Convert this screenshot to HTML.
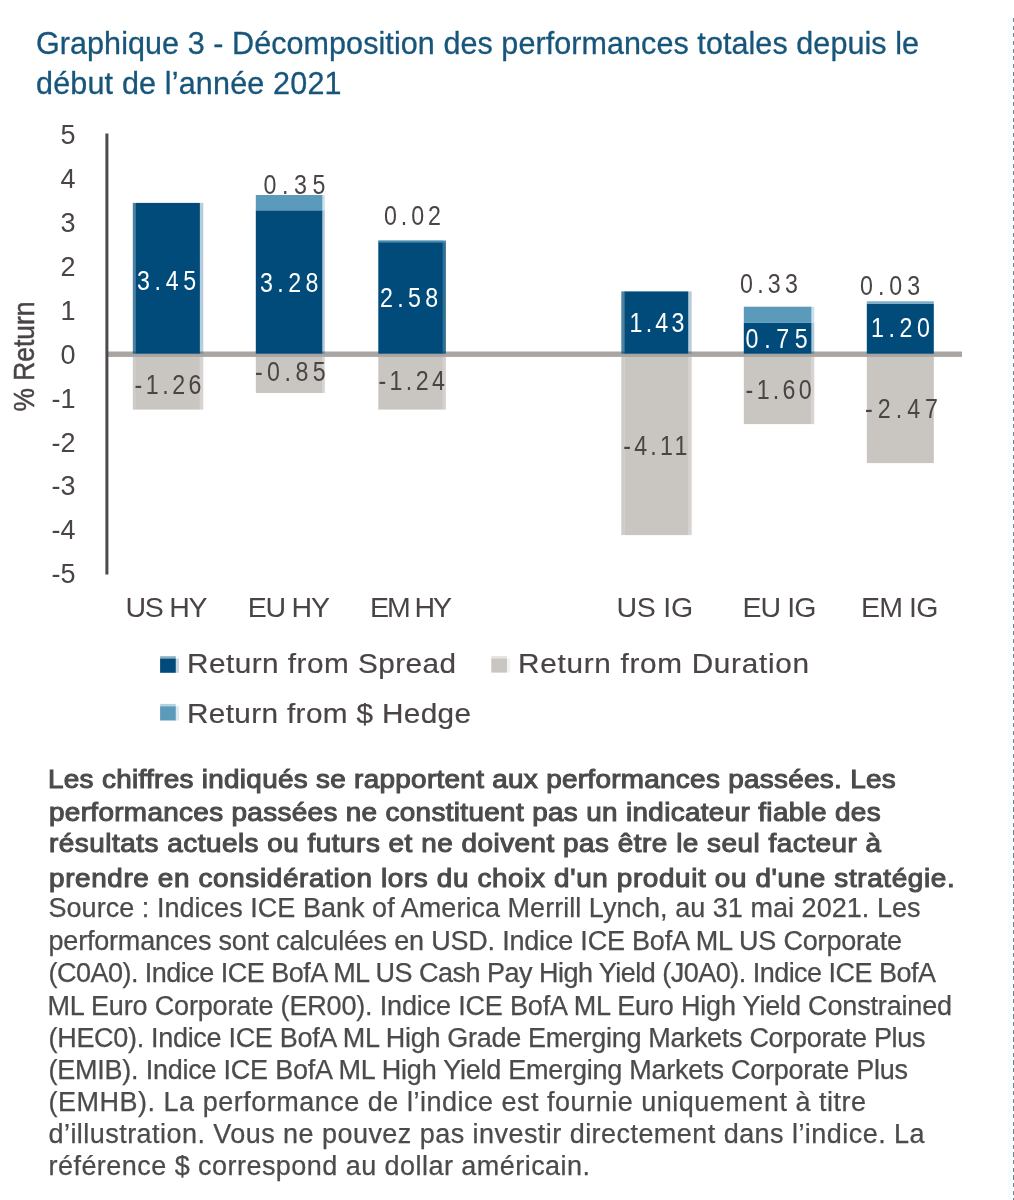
<!DOCTYPE html>
<html lang="fr">
<head>
<meta charset="utf-8">
<title>Graphique 3</title>
<style>
html,body{margin:0;padding:0;background:#fff}
body{width:1014px;height:1200px;position:relative;overflow:hidden;font-family:"Liberation Sans", sans-serif}
.ln{position:absolute;white-space:nowrap;line-height:1;margin:0;transform-origin:0 0}
.t{color:#17557b;font-size:30.5px;-webkit-text-stroke:0.3px #17557b}
.b{color:#4b4b4d;font-size:26px;font-weight:normal;-webkit-text-stroke:1.05px #4b4b4d;transform:scaleX(1.07)}
.n{color:#4b4b4d;font-size:27px;-webkit-text-stroke:0.25px #4b4b4d}
.chart{position:absolute;left:0;top:0}
.dots{position:absolute;left:1012.8px;top:17.6px;width:1.2px;height:1183px;
 background:repeating-linear-gradient(to bottom,#76838f 0,#76838f 4.1px,transparent 4.1px,transparent 7.665px)}
.halo{position:absolute;left:1008px;top:17px;width:5px;height:1183px;background:#f7fcfd}
</style>
</head>
<body>
<div class="ln t" style="left:36.00px;top:27.98px;letter-spacing:0.079px">Graphique 3 - Décomposition des performances totales depuis le</div>
<div class="ln t" style="left:36.00px;top:67.98px;letter-spacing:0.180px">début de l’année 2021</div>
<div class="ln b" style="left:48.00px;top:766.49px;letter-spacing:0.305px">Les chiffres indiqués se rapportent aux performances passées. Les</div>
<div class="ln b" style="left:49.00px;top:799.49px;letter-spacing:0.338px">performances passées ne constituent pas un indicateur fiable des</div>
<div class="ln b" style="left:49.00px;top:830.09px;letter-spacing:0.497px">résultats actuels ou futurs et ne doivent pas être le seul facteur à</div>
<div class="ln b" style="left:49.00px;top:864.59px;letter-spacing:0.614px">prendre en considération lors du choix d&#x27;un produit ou d&#x27;une stratégie.</div>
<div class="ln n" style="left:48.50px;top:895.04px;letter-spacing:0.037px">Source : Indices ICE Bank of America Merrill Lynch, au 31 mai 2021. Les</div>
<div class="ln n" style="left:48.50px;top:927.89px;letter-spacing:-0.196px">performances sont calculées en USD. Indice ICE BofA ML US Corporate</div>
<div class="ln n" style="left:48.50px;top:960.49px;letter-spacing:-0.520px">(C0A0). Indice ICE BofA ML US Cash Pay High Yield (J0A0). Indice ICE BofA</div>
<div class="ln n" style="left:47.50px;top:992.59px;letter-spacing:-0.168px">ML Euro Corporate (ER00). Indice ICE BofA ML Euro High Yield Constrained</div>
<div class="ln n" style="left:48.50px;top:1025.19px;letter-spacing:-0.307px">(HEC0). Indice ICE BofA ML High Grade Emerging Markets Corporate Plus</div>
<div class="ln n" style="left:48.50px;top:1057.29px;letter-spacing:-0.233px">(EMIB). Indice ICE BofA ML High Yield Emerging Markets Corporate Plus</div>
<div class="ln n" style="left:48.50px;top:1088.89px;letter-spacing:0.510px">(EMHB). La performance de l’indice est fournie uniquement à titre</div>
<div class="ln n" style="left:48.50px;top:1120.99px;letter-spacing:0.452px">d’illustration. Vous ne pouvez pas investir directement dans l’indice. La</div>
<div class="ln n" style="left:48.50px;top:1152.89px;letter-spacing:0.458px">référence $ correspond au dollar américain.</div>
<svg class="chart" width="1014" height="1200" viewBox="0 0 1014 1200">
<g font-family='"Liberation Sans", sans-serif'>
<text transform="translate(263.4 194.2) scale(0.86 1)" font-size="27" fill="#4a4445" textLength="72.2" lengthAdjust="spacing">0.35</text>
<text transform="translate(383.9 225.4) scale(0.86 1)" font-size="27" fill="#4a4445" textLength="66.3" lengthAdjust="spacing">0.02</text>
<text transform="translate(740.1 292.6) scale(0.86 1)" font-size="27" fill="#4a4445" textLength="67.2" lengthAdjust="spacing">0.33</text>
<text transform="translate(860.0 295.0) scale(0.86 1)" font-size="27" fill="#4a4445" textLength="70.0" lengthAdjust="spacing">0.03</text>
</g>
<rect x="132.8" y="354.0" width="3.2" height="55.6" fill="#c9c6c2" opacity="0.9"/><rect x="199.7" y="354.0" width="3.6" height="55.6" fill="#c9c6c2" opacity="0.75"/><rect x="135.8" y="354.0" width="64.1" height="55.6" fill="#c9c6c2"/>
<rect x="322.1" y="354.0" width="2.7" height="39.0" fill="#c9c6c2" opacity="0.75"/><rect x="255.8" y="354.0" width="66.5" height="39.0" fill="#c9c6c2"/>
<rect x="442.7" y="354.0" width="3.2" height="55.6" fill="#c9c6c2" opacity="0.8"/><rect x="378.3" y="354.0" width="64.6" height="55.6" fill="#c9c6c2"/>
<rect x="621.3" y="354.0" width="3.2" height="181.1" fill="#c9c6c2" opacity="0.9"/><rect x="688.0" y="354.0" width="3.7" height="181.1" fill="#c9c6c2" opacity="0.75"/><rect x="624.3" y="354.0" width="63.9" height="181.1" fill="#c9c6c2"/>
<rect x="811.2" y="354.0" width="3.1" height="70.1" fill="#c9c6c2" opacity="0.75"/><rect x="743.8" y="354.0" width="67.6" height="70.1" fill="#c9c6c2"/>
<rect x="866.8" y="354.0" width="67.0" height="109.1" fill="#c9c6c2"/>
<rect x="107" y="351.5" width="855" height="5.4" fill="#a8a5a3"/>
<rect x="132.8" y="202.9" width="3.2" height="150.8" fill="#004b7a" opacity="0.7"/><rect x="199.7" y="202.9" width="3.6" height="150.8" fill="#004b7a" opacity="0.28"/><rect x="135.8" y="202.9" width="64.1" height="150.8" fill="#004b7a"/>
<rect x="322.1" y="210.3" width="2.7" height="143.4" fill="#004b7a" opacity="0.3"/><rect x="255.8" y="210.3" width="66.5" height="143.4" fill="#004b7a"/>
<rect x="322.1" y="195.0" width="2.7" height="15.3" fill="#5b9aba" opacity="0.3"/><rect x="255.8" y="195.0" width="66.5" height="15.3" fill="#5b9aba"/>
<rect x="442.7" y="241.0" width="3.2" height="112.7" fill="#004b7a" opacity="0.8"/><rect x="378.3" y="241.0" width="64.6" height="112.7" fill="#004b7a"/>
<g opacity="0.8"><rect x="442.7" y="240.1" width="3.2" height="2.5" fill="#5b9aba" opacity="0.8"/><rect x="378.3" y="240.1" width="64.6" height="2.5" fill="#5b9aba"/></g>
<rect x="621.3" y="291.4" width="3.2" height="62.3" fill="#004b7a" opacity="0.7"/><rect x="688.0" y="291.4" width="3.7" height="62.3" fill="#004b7a" opacity="0.28"/><rect x="624.3" y="291.4" width="63.9" height="62.3" fill="#004b7a"/>
<rect x="811.2" y="322.9" width="3.1" height="30.8" fill="#004b7a" opacity="0.3"/><rect x="743.8" y="322.9" width="67.6" height="30.8" fill="#004b7a"/>
<rect x="811.2" y="306.7" width="3.1" height="16.2" fill="#5b9aba" opacity="0.3"/><rect x="743.8" y="306.7" width="67.6" height="16.2" fill="#5b9aba"/>
<rect x="866.8" y="303.8" width="67.0" height="49.9" fill="#004b7a"/>
<g opacity="0.8"><rect x="866.8" y="301.3" width="67.0" height="2.5" fill="#5b9aba"/></g>
<rect x="105.4" y="133.5" width="3" height="441" fill="#4f494b"/>
<g font-family='"Liberation Sans", sans-serif'>
<text x="75.6" y="144.2" font-size="27" fill="#4a4445" text-anchor="end">5</text>
<text x="75.6" y="188.1" font-size="27" fill="#4a4445" text-anchor="end">4</text>
<text x="75.6" y="232.0" font-size="27" fill="#4a4445" text-anchor="end">3</text>
<text x="75.6" y="275.9" font-size="27" fill="#4a4445" text-anchor="end">2</text>
<text x="75.6" y="319.8" font-size="27" fill="#4a4445" text-anchor="end">1</text>
<text x="75.6" y="363.7" font-size="27" fill="#4a4445" text-anchor="end">0</text>
<text x="75.6" y="407.6" font-size="27" fill="#4a4445" text-anchor="end">-1</text>
<text x="75.6" y="451.5" font-size="27" fill="#4a4445" text-anchor="end">-2</text>
<text x="75.6" y="495.4" font-size="27" fill="#4a4445" text-anchor="end">-3</text>
<text x="75.6" y="539.3" font-size="27" fill="#4a4445" text-anchor="end">-4</text>
<text x="75.6" y="583.2" font-size="27" fill="#4a4445" text-anchor="end">-5</text>
<text transform="translate(34.4 411.5) rotate(-90)" font-size="29" fill="#4a4445" stroke="#4a4445" stroke-width="0.5" textLength="110" lengthAdjust="spacingAndGlyphs">% Return</text>
<text x="125.5" y="617.2" font-size="28.5" fill="#4a4445" textLength="82.1" lengthAdjust="spacing">US HY</text>
<text x="247.8" y="617.2" font-size="28.5" fill="#4a4445" textLength="82.1" lengthAdjust="spacing">EU HY</text>
<text x="370.1" y="617.2" font-size="28.5" fill="#4a4445" textLength="82.0" lengthAdjust="spacing">EM HY</text>
<text x="616.5" y="617.2" font-size="28.5" fill="#4a4445" textLength="76.6" lengthAdjust="spacing">US IG</text>
<text x="742.4" y="617.2" font-size="28.5" fill="#4a4445" textLength="74.0" lengthAdjust="spacing">EU IG</text>
<text x="861.0" y="617.2" font-size="28.5" fill="#4a4445" textLength="77.3" lengthAdjust="spacing">EM IG</text>
<text transform="translate(136.9 290.1) scale(0.86 1)" font-size="27" fill="#ffffff" textLength="69.0" lengthAdjust="spacing">3.45</text>
<text transform="translate(260.1 292.3) scale(0.86 1)" font-size="27" fill="#ffffff" textLength="67.7" lengthAdjust="spacing">3.28</text>
<text transform="translate(380.0 307.0) scale(0.86 1)" font-size="27" fill="#ffffff" textLength="67.7" lengthAdjust="spacing">2.58</text>
<text transform="translate(629.6 332.0) scale(0.86 1)" font-size="27" fill="#ffffff" textLength="63.6" lengthAdjust="spacing">1.43</text>
<text transform="translate(745.6 347.8) scale(0.86 1)" font-size="27" fill="#ffffff" textLength="72.2" lengthAdjust="spacing">0.75</text>
<text transform="translate(871.0 336.8) scale(0.86 1)" font-size="27" fill="#ffffff" textLength="68.6" lengthAdjust="spacing">1.20</text>
<text transform="translate(134.6 393.5) scale(0.86 1)" font-size="27" fill="#4a4445" textLength="77.8" lengthAdjust="spacing">-1.26</text>
<text transform="translate(254.9 381.2) scale(0.86 1)" font-size="27" fill="#4a4445" textLength="82.4" lengthAdjust="spacing">-0.85</text>
<text transform="translate(378.4 390.2) scale(0.86 1)" font-size="27" fill="#4a4445" textLength="77.3" lengthAdjust="spacing">-1.24</text>
<text transform="translate(623.3 454.7) scale(0.86 1)" font-size="27" fill="#4a4445" textLength="74.5" lengthAdjust="spacing">-4.11</text>
<text transform="translate(745.6 398.6) scale(0.86 1)" font-size="27" fill="#4a4445" textLength="76.9" lengthAdjust="spacing">-1.60</text>
<text transform="translate(865.1 418.3) scale(0.86 1)" font-size="27" fill="#4a4445" textLength="84.7" lengthAdjust="spacing">-2.47</text>
<rect x="175.8" y="658.6" width="3.2" height="14.2" fill="#004b7a" opacity="0.22"/><rect x="160.1" y="656.2" width="15.7" height="2.6" fill="#004b7a" opacity="0.45"/><rect x="160.1" y="658.6" width="15.7" height="14.2" fill="#004b7a"/>
<rect x="507.0" y="658.4" width="3.2" height="14.2" fill="#c9c6c2" opacity="0.22"/><rect x="491.3" y="656.0" width="15.7" height="2.6" fill="#c9c6c2" opacity="0.45"/><rect x="491.3" y="658.4" width="15.7" height="14.2" fill="#c9c6c2"/>
<rect x="175.8" y="706.3" width="3.2" height="14.2" fill="#5b9aba" opacity="0.22"/><rect x="160.1" y="703.9" width="15.7" height="2.6" fill="#5b9aba" opacity="0.45"/><rect x="160.1" y="706.3" width="15.7" height="14.2" fill="#5b9aba"/>
<text transform="translate(187.0 672.8) scale(1.08 1)" font-size="27.5" fill="#4a4445" textLength="249.2" lengthAdjust="spacing" stroke="#4a4445" stroke-width="0.2">Return from Spread</text>
<text transform="translate(518.1 672.8) scale(1.08 1)" font-size="27.5" fill="#4a4445" textLength="269.3" lengthAdjust="spacing" stroke="#4a4445" stroke-width="0.2">Return from Duration</text>
<text transform="translate(187.0 722.8) scale(1.08 1)" font-size="27.5" fill="#4a4445" textLength="263.0" lengthAdjust="spacing" stroke="#4a4445" stroke-width="0.2">Return from $ Hedge</text>
</g>
</svg>
<div class="halo"></div><div class="dots"></div>
</body></html>
